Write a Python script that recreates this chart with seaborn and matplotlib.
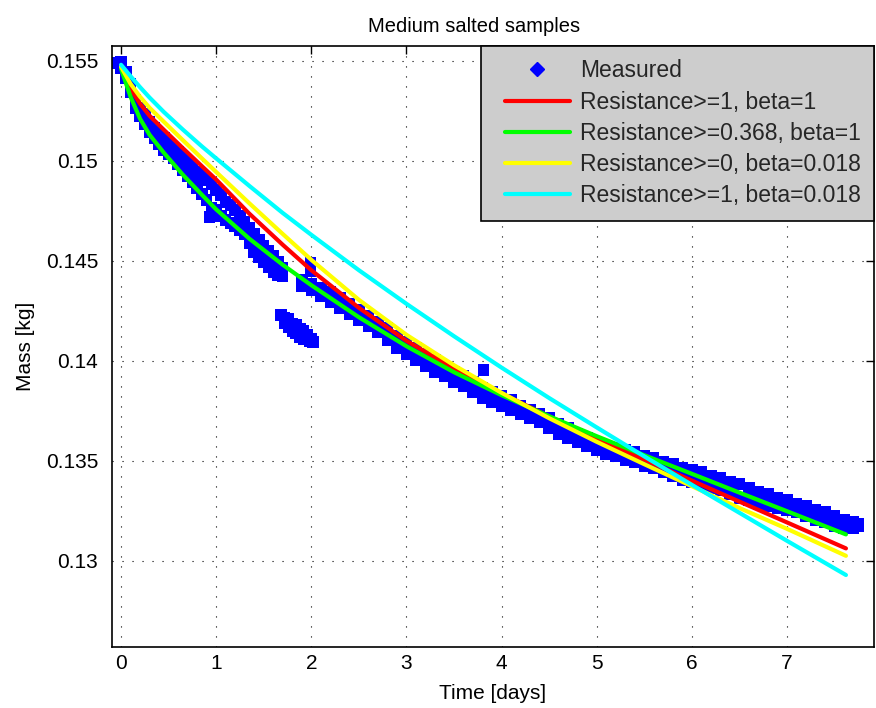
import numpy as np
import pandas as pd
import matplotlib
matplotlib.use("Agg")
import matplotlib.pyplot as plt
import seaborn as sns
from matplotlib.lines import Line2D
from matplotlib.legend_handler import HandlerLine2D

# ---------------- data ----------------
meas_time = [0.00, 0.05, 0.10, 0.15, 0.20, 0.25, 0.30, 0.35, 0.40, 0.45,
             0.50, 0.55, 0.60, 0.65, 0.70, 0.75, 0.80, 0.85, 0.90, 0.95,
             1.00, 1.05, 1.10, 1.15, 1.20, 1.25, 1.30, 1.35, 1.40, 1.45,
             1.50, 1.55, 1.60, 1.65, 1.70, 1.90, 2.00,
             2.10, 2.20, 2.30, 2.40, 2.50, 2.60, 2.70, 2.80, 2.90, 3.00,
             3.10, 3.20, 3.30, 3.40, 3.50, 3.60, 3.70, 3.80, 3.90, 4.00,
             4.10, 4.20, 4.30, 4.40, 4.50, 4.60, 4.70, 4.80, 4.90, 5.00,
             5.10, 5.20, 5.30, 5.40, 5.50, 5.60, 5.70, 5.80, 5.90, 6.00,
             6.10, 6.20, 6.30, 6.40, 6.50, 6.60, 6.70, 6.80, 6.90, 7.00,
             7.10, 7.20, 7.30, 7.40, 7.50, 7.60, 7.70, 7.75]
meas_upper = [0.15495, 0.15445, 0.15385, 0.15305, 0.15265, 0.15235, 0.15195, 0.15165, 0.15135, 0.15115,
              0.15085, 0.15065, 0.15045, 0.15015, 0.14995, 0.14975, 0.14945, 0.14925, 0.14905, 0.14885,
              0.14855, 0.14830, 0.14795, 0.14780, 0.14755, 0.14725, 0.14695, 0.14665, 0.14635, 0.14605,
              0.14575, 0.14550, 0.14525, 0.14495, 0.14465, 0.14405, 0.14385,
              0.14365, 0.14345, 0.14315, 0.14285, 0.14255, 0.14225, 0.14195, 0.14165, 0.14125, 0.14095,
              0.14065, 0.14035, 0.14005, 0.13975, 0.13945, 0.13925, 0.13895, 0.13865, 0.13845, 0.13825,
              0.13805, 0.13775, 0.13755, 0.13735, 0.13715, 0.13685, 0.13665, 0.13635, 0.13615, 0.13595,
              0.13575, 0.13565, 0.13555, 0.13545, 0.13525, 0.13515, 0.13495, 0.13485, 0.13465, 0.13455,
              0.13445, 0.13425, 0.13415, 0.13395, 0.13385, 0.13365, 0.13345, 0.13335, 0.13315, 0.13305,
              0.13285, 0.13275, 0.13255, 0.13245, 0.13225, 0.13205, 0.13195, 0.13185]
meas_lower = [0.15465, 0.15415, 0.15345, 0.15265, 0.15225, 0.15185, 0.15145, 0.15115, 0.15085, 0.15055,
              0.15035, 0.15015, 0.14985, 0.14955, 0.14925, 0.14895, 0.14865, 0.14835, 0.14805, 0.14765,
              0.14755, 0.14725, 0.14705, 0.14690, 0.14675, 0.14655, 0.14635, 0.14590, 0.14545, 0.14520,
              0.14495, 0.14470, 0.14445, 0.14430, 0.14425, 0.14375, 0.14355,
              0.14325, 0.14295, 0.14265, 0.14235, 0.14205, 0.14175, 0.14145, 0.14105, 0.14065, 0.14035,
              0.14005, 0.13975, 0.13945, 0.13925, 0.13895, 0.13875, 0.13845, 0.13815, 0.13795, 0.13775,
              0.13755, 0.13735, 0.13715, 0.13695, 0.13665, 0.13635, 0.13615, 0.13595, 0.13575, 0.13555,
              0.13535, 0.13525, 0.13505, 0.13495, 0.13475, 0.13465, 0.13445, 0.13425, 0.13405, 0.13395,
              0.13385, 0.13365, 0.13355, 0.13335, 0.13315, 0.13305, 0.13285, 0.13275, 0.13265, 0.13255,
              0.13245, 0.13225, 0.13205, 0.13195, 0.13175, 0.13165, 0.13165, 0.13175]
# isolated clusters / outliers of the measurement
extra_time = [-0.03, 0.93, 1.68, 1.72, 1.72, 1.76, 1.76, 1.80, 1.80, 1.84, 1.84, 1.88, 1.88,
              1.92, 1.92, 1.96, 1.98, 2.00, 2.02, 1.99, 1.99, 3.81]
extra_mass = [0.15490, 0.14720, 0.14230, 0.14215, 0.14190, 0.14210, 0.14170, 0.14185, 0.14150,
              0.14180, 0.14140, 0.14160, 0.14120, 0.14150, 0.14110, 0.14130, 0.14100, 0.14110,
              0.14095, 0.14490, 0.14450, 0.13955]

fit_time = [0.0, 0.1, 0.2, 0.3, 0.45, 0.65, 0.85, 1.0, 1.35, 1.7, 2.0, 2.5,
            3.0, 3.5, 4.0, 4.5, 5.0, 5.5, 6.0, 6.5, 7.0, 7.62]
fit_red = [0.1547, 0.1536, 0.15285, 0.15225, 0.15155, 0.15063, 0.14973, 0.14906, 0.14735, 0.14580,
           0.14453, 0.14265, 0.14100, 0.13962, 0.13836, 0.13722, 0.13613, 0.13506, 0.13401, 0.13296,
           0.13192, 0.13062]
fit_green = [0.1546, 0.1532, 0.1521, 0.1513, 0.1504, 0.1493, 0.1483, 0.14757, 0.1461, 0.1448,
             0.14378, 0.14218, 0.14073, 0.13943, 0.13828, 0.13723, 0.13623, 0.13528, 0.13435, 0.13341,
             0.13248, 0.13132]
fit_yellow = [0.1547, 0.15385, 0.1532, 0.15265, 0.15195, 0.15103, 0.15012, 0.14944, 0.14787, 0.14634,
              0.14505, 0.14305, 0.14130, 0.13978, 0.13840, 0.13713, 0.13595, 0.13483, 0.13373, 0.13264,
              0.13160, 0.13025]
fit_cyan = [0.1548, 0.15423, 0.15368, 0.15316, 0.15244, 0.15156, 0.15072, 0.15012, 0.14874, 0.14739,
            0.14630, 0.14453, 0.14285, 0.14123, 0.13966, 0.13814, 0.13667, 0.13522, 0.13380, 0.13240,
            0.13100, 0.12929]

labels = ["Measured", "Resistance>=1, beta=1", "Resistance>=0.368, beta=1",
          "Resistance>=0, beta=0.018", "Resistance>=1, beta=0.018"]
xticks = [0, 1, 2, 3, 4, 5, 6, 7]
yticks = [0.13, 0.135, 0.14, 0.145, 0.15, 0.155]
ytick_labels = ["0.13", "0.135", "0.14", "0.145", "0.15", "0.155"]

# ---------------- style ----------------
sns.set_theme(style="white")
plt.rcParams['font.family'] = ['Liberation Sans', 'DejaVu Sans']

fig = plt.figure(figsize=(8.76, 7.08), dpi=100)
ax = fig.add_axes([112 / 876, 61 / 708, 762 / 876, 601 / 708])

meas = pd.DataFrame({
    "time": list(meas_time) + list(meas_time) + list(extra_time),
    "mass": list(meas_upper) + list(meas_lower) + list(extra_mass),
})
sns.scatterplot(data=meas, x="time", y="mass", marker="s", s=68, color="#0000ff",
                linewidth=0, edgecolor="none", ax=ax, legend=False, zorder=2)

fits = pd.DataFrame({
    "time": fit_time * 4,
    "mass": fit_red + fit_green + fit_yellow + fit_cyan,
    "model": [labels[1]] * len(fit_time) + [labels[2]] * len(fit_time)
             + [labels[3]] * len(fit_time) + [labels[4]] * len(fit_time),
})
colors = ["#ff0000", "#00ff00", "#ffff00", "#00ffff"]
palette = dict(zip(labels[1:], colors))
sns.lineplot(data=fits, x="time", y="mass", hue="model", palette=palette,
             estimator=None, sort=False, linewidth=3, ax=ax, legend=False, zorder=3)

ax.set_xlim(-0.095, 7.915)
ax.set_ylim(0.12569, 0.15574)
ax.set_xticks(xticks)
ax.set_yticks(yticks, labels=ytick_labels)
ax.tick_params(axis="both", direction="in", length=6, width=1, top=True, right=True,
               labelsize=15, colors="black")
ax.tick_params(axis="y", pad=10)
ax.tick_params(axis="x", pad=5)
ax.grid(True, color="black", linestyle=(0, (1, 8)), linewidth=0.8)
for s in ax.spines.values():
    s.set_color("black")
    s.set_linewidth(1.2)

ax.set_xlabel("Time [days]", fontsize=15, labelpad=8, color="black")
ax.set_ylabel("Mass [kg]", fontsize=15, labelpad=8, color="black")
ax.set_title("Medium salted samples", fontsize=14.5, pad=10, color="black",
             x=0.475)


class PaddedLineHandler(HandlerLine2D):
    """Legend line handle with an empty gap at its left, as in MATLAB legends."""
    def get_xdata(self, legend, xdescent, ydescent, width, height, fontsize):
        left = -xdescent + 0.5 * fontsize
        right = -xdescent + width
        xdata = np.array([left, right])
        return xdata, np.array([(left + right) / 2.0])


handles = [Line2D([], [], marker="D", color="#0000ff", linestyle="none", markersize=7)]
handles += [Line2D([], [], color=c, linewidth=3) for c in colors]
leg = ax.legend(handles, labels, loc="upper right", borderaxespad=0,
                fontsize=16.5, frameon=True, fancybox=False, framealpha=1,
                facecolor="#cdcdcd", edgecolor="black", handlelength=3.3,
                handletextpad=0.45, labelspacing=0.36, borderpad=0.58,
                handler_map={Line2D: PaddedLineHandler()})
leg.get_frame().set_linewidth(1.2)

fig.savefig("out.png", dpi=100)
